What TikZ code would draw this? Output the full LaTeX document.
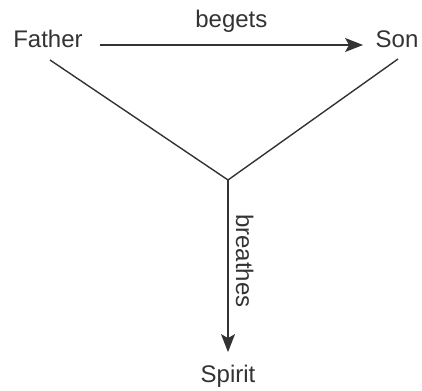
\documentclass[tikz,border=0pt]{standalone}
\usepackage{fontspec}
\setmainfont{Liberation Sans}
\usetikzlibrary{arrows.meta}
\definecolor{ink}{HTML}{333333}
\tikzset{
  lbl/.style={inner sep=0pt, outer sep=0pt, text=ink, font=\fontsize{24}{28}\selectfont, anchor=base},
  conn/.style={draw=ink, line width=1.4pt},
  arr/.style={conn, -{Stealth[length=18pt,width=14pt,inset=4pt]}}
}
\begin{document}
\begin{tikzpicture}[x=1pt,y=1pt]
\useasboundingbox (0,0) rectangle (422,390);
\node[lbl] (Father) at (48,342) {Father};
\node[lbl] (Son) at (397,342) {Son};
\node[lbl] (Spirit) at (228,7) {Spirit};
\coordinate (J) at (228,210);
\draw[arr] ([xshift=17pt,yshift=3pt]Father.base east) -- node[lbl, midway, yshift=17pt] (begets) {begets} ([xshift=-12.6pt,yshift=3pt]Son.base west);
\draw[conn] ([shift={(2pt,-12pt)}]Father.base) -- (J);
\draw[conn] ([shift={(1pt,-11pt)}]Son.base) -- (J);
\draw[arr] (J) -- ([yshift=13.5pt]Spirit.north);
\node[lbl, rotate=-90] (breathes) at (236,129) {breathes};
\end{tikzpicture}
\end{document}
